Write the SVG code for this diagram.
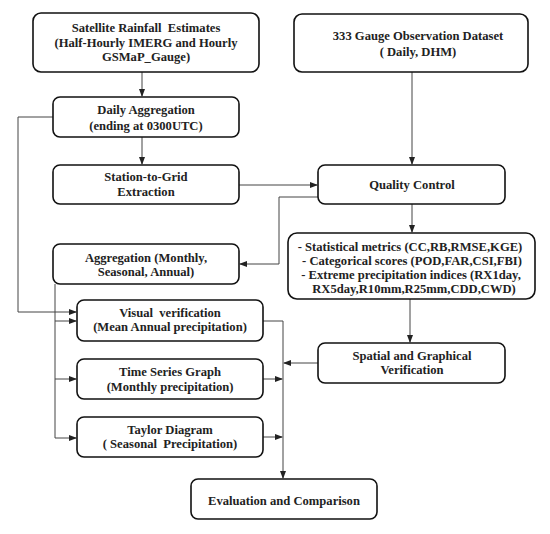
<svg xmlns="http://www.w3.org/2000/svg" width="550" height="534" viewBox="0 0 550 534">
<defs>
<marker id="ah" markerWidth="8" markerHeight="6" refX="7" refY="3" orient="auto" markerUnits="userSpaceOnUse">
<path d="M0,0 L8,3 L0,6 Z" fill="#222"/>
</marker>
<style>
.box{fill:#fff;stroke:#111;stroke-width:1.6}
.t{font-family:"Liberation Serif","Times New Roman",serif;font-weight:bold;font-size:12.6px;fill:#222;text-anchor:middle}
.c{fill:none;stroke:#444;stroke-width:1}
</style>
</defs>
<rect width="550" height="534" fill="#fff"/>
<g id="connectors">
<path class="c" d="M142,72 V96" marker-end="url(#ah)"/>
<path class="c" d="M142,137 V164" marker-end="url(#ah)"/>
<path class="c" d="M412,72 V164" marker-end="url(#ah)"/>
<path class="c" d="M239,185 H317" marker-end="url(#ah)"/>
<path class="c" d="M318,197 H279 V264 H240" marker-end="url(#ah)"/>
<path class="c" d="M412,204 V232" marker-end="url(#ah)"/>
<path class="c" d="M410,299 V342" marker-end="url(#ah)"/>
<path class="c" d="M318,363 H284" marker-end="url(#ah)"/>
<path class="c" d="M263,321 H283 V478" marker-end="url(#ah)"/>
<path class="c" d="M263,379 H282" marker-end="url(#ah)"/>
<path class="c" d="M263,437 H282" marker-end="url(#ah)"/>
<path class="c" d="M53,117 H18 V312 H76" marker-end="url(#ah)"/>
<path class="c" d="M55,284 V438 H76" marker-end="url(#ah)"/>
<path class="c" d="M55,321 H76" marker-end="url(#ah)"/>
<path class="c" d="M55,379 H76" marker-end="url(#ah)"/>
</g>
<g id="satellite">
<rect class="box" x="33" y="13" width="226" height="59" rx="8"/>
<text class="t" x="146" y="32" xml:space="preserve">Satellite Rainfall  Estimates</text>
<text class="t" x="146" y="47">(Half-Hourly IMERG and Hourly</text>
<text class="t" x="146" y="61">GSMaP_Gauge)</text>
</g>
<g id="gauge">
<rect class="box" x="294" y="14" width="234" height="58" rx="8"/>
<text class="t" x="418" y="40">333 Gauge Observation Dataset</text>
<text class="t" x="418" y="56">( Daily, DHM)</text>
</g>
<g id="daily">
<rect class="box" x="53" y="97" width="186" height="40" rx="7"/>
<text class="t" x="146" y="114">Daily Aggregation</text>
<text class="t" x="146" y="130">(ending at 0300UTC)</text>
</g>
<g id="station">
<rect class="box" x="53" y="165" width="186" height="39" rx="7"/>
<text class="t" x="146" y="181">Station-to-Grid</text>
<text class="t" x="146" y="196">Extraction</text>
</g>
<g id="qc">
<rect class="box" x="318" y="165" width="187" height="39" rx="7"/>
<text class="t" x="412" y="189">Quality Control</text>
</g>
<g id="aggregation">
<rect class="box" x="53" y="244" width="186" height="40" rx="7"/>
<text class="t" x="146" y="262">Aggregation (Monthly,</text>
<text class="t" x="146" y="276">Seasonal, Annual)</text>
</g>
<g id="metrics">
<rect class="box" x="288" y="233" width="247" height="66" rx="9"/>
<text class="t" x="410" y="251">- Statistical metrics (CC,RB,RMSE,KGE)</text>
<text class="t" x="412" y="265">- Categorical scores (POD,FAR,CSI,FBI)</text>
<text class="t" x="411" y="279">- Extreme precipitation indices (RX1day,</text>
<text class="t" x="414" y="293">RX5day,R10mm,R25mm,CDD,CWD)</text>
</g>
<g id="spatial">
<rect class="box" x="318" y="343" width="187" height="40" rx="7"/>
<text class="t" x="412" y="360">Spatial and Graphical</text>
<text class="t" x="412" y="374">Verification</text>
</g>
<g id="visual">
<rect class="box" x="77" y="300" width="186" height="41" rx="7"/>
<text class="t" x="170" y="317" xml:space="preserve">Visual  verification</text>
<text class="t" x="170" y="331">(Mean Annual precipitation)</text>
</g>
<g id="timeseries">
<rect class="box" x="77" y="359" width="186" height="40" rx="7"/>
<text class="t" x="170" y="376">Time Series Graph</text>
<text class="t" x="170" y="391">(Monthly precipitation)</text>
</g>
<g id="taylor">
<rect class="box" x="77" y="417" width="186" height="40" rx="7"/>
<text class="t" x="170" y="434">Taylor Diagram</text>
<text class="t" x="170" y="448" xml:space="preserve">( Seasonal  Precipitation)</text>
</g>
<g id="evaluation">
<rect class="box" x="191" y="479" width="186" height="40" rx="7"/>
<text class="t" x="284" y="505">Evaluation and Comparison</text>
</g>
</svg>
